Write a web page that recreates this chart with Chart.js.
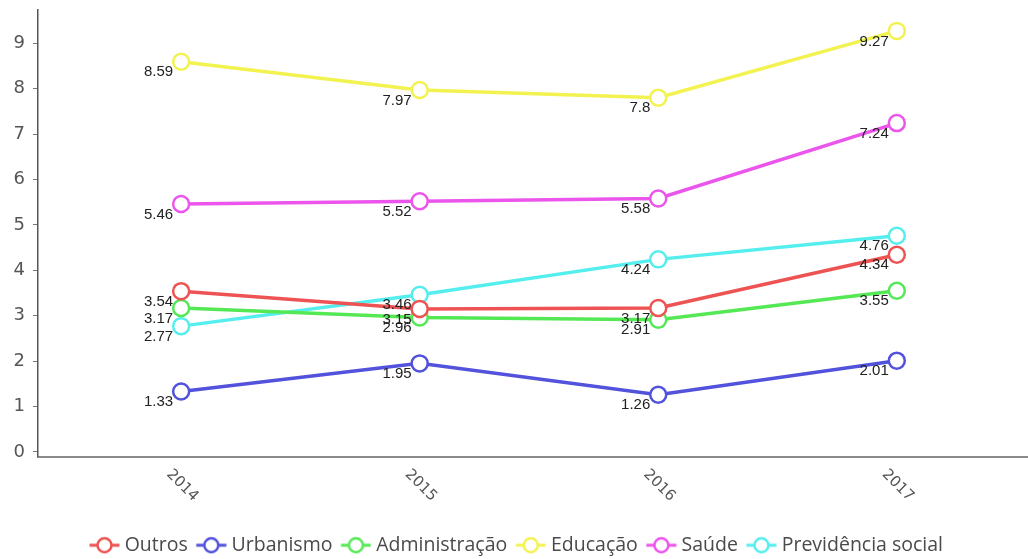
<!DOCTYPE html>
<html>
<head>
<meta charset="utf-8">
<script src="https://cdn.jsdelivr.net/npm/chart.js@4/dist/chart.umd.min.js"></script>
<style>
  html, body { margin: 0; padding: 0; background: #fff; }
  #wrap { width: 1028px; height: 559px; }
</style>
</head>
<body>
<div id="wrap"><canvas id="grafica"></canvas></div>
<script>
// datos
var anos = [2014, 2015, 2016, 2017];
var outros = [3.54, 3.15, 3.17, 4.34];
var urbanismo = [1.33, 1.95, 1.26, 2.01];
var administracao = [3.17, 2.96, 2.91, 3.55];
var educacao = [8.59, 7.97, 7.8, 9.27];
var saude = [5.46, 5.52, 5.58, 7.24];
var previdencia = [2.77, 3.46, 4.24, 4.76];
var ticksY = [0, 1, 2, 3, 4, 5, 6, 7, 8, 9];

var series = [
  { nome: 'Outros', valores: outros, cor: '#ee5353' },
  { nome: 'Urbanismo', valores: urbanismo, cor: '#5252dc' },
  { nome: 'Administração', valores: administracao, cor: '#55e855' },
  { nome: 'Educação', valores: educacao, cor: '#f2f250' },
  { nome: 'Saúde', valores: saude, cor: '#ec55ec' },
  { nome: 'Previdência social', valores: previdencia, cor: '#55eeee' }
];

// icono de la leyenda: linea + circulo
function iconoLeyenda(cor) {
  var c = document.createElement('canvas');
  c.width = 40; c.height = 20;
  var g = c.getContext('2d');
  g.strokeStyle = cor;
  g.lineWidth = 3;
  g.beginPath(); g.moveTo(9.5, 10); g.lineTo(39.5, 10); g.stroke();
  g.fillStyle = '#fff';
  g.lineWidth = 2.5;
  g.beginPath(); g.arc(24.5, 10, 7, 0, Math.PI * 2); g.fill(); g.stroke();
  return c;
}

var datasets = series.map(function(s) {
  return {
    label: s.nome,
    data: s.valores.map(function(v, i) { return { x: anos[i], y: v }; }),
    borderColor: s.cor,
    backgroundColor: '#ffffff',
    borderWidth: 3.5,
    pointRadius: 8,
    pointHoverRadius: 8,
    pointBorderWidth: 2.5,
    pointBackgroundColor: '#ffffff',
    tension: 0,
    icono: iconoLeyenda(s.cor)
  };
});

// etiquetas de valores
var etiquetas = {
  id: 'etiquetas',
  afterDatasetsDraw: function(chart) {
    var ctx = chart.ctx;
    ctx.save();
    ctx.font = '15px "Liberation Sans", Arial, sans-serif';
    ctx.fillStyle = '#222';
    ctx.textAlign = 'right';
    ctx.textBaseline = 'top';
    chart.data.datasets.forEach(function(ds, i) {
      var meta = chart.getDatasetMeta(i);
      meta.data.forEach(function(p, j) {
        ctx.fillText(String(ds.data[j].y), p.x - 8, p.y + 3);
      });
    });
    ctx.restore();
  }
};

// años inclinados hacia abajo
var etiquetasX = {
  id: 'etiquetasX',
  afterDraw: function(chart) {
    var ctx = chart.ctx;
    var esc = chart.scales.x;
    ctx.save();
    ctx.font = '15px "DejaVu Sans", Verdana, sans-serif';
    ctx.fillStyle = '#555';
    ctx.textAlign = 'center';
    ctx.textBaseline = 'middle';
    anos.forEach(function(a) {
      var px = esc.getPixelForValue(a);
      ctx.save();
      ctx.translate(px + 1, esc.top + 29);
      ctx.rotate(Math.PI / 4);
      ctx.fillText(String(a), 0, 0);
      ctx.restore();
    });
    ctx.restore();
  }
};

new Chart(document.getElementById('grafica'), {
  type: 'line',
  data: { datasets: datasets },
  plugins: [etiquetas, etiquetasX],
  options: {
    responsive: true,
    maintainAspectRatio: false,
    animation: false,
    layout: { autoPadding: false, padding: { top: 10, left: 0, right: 0, bottom: -6 } },
    plugins: {
      tooltip: { enabled: false },
      legend: {
        position: 'bottom',
        labels: {
          usePointStyle: true,
          pointStyleWidth: 30,
          padding: 4,
          color: '#4a4a4a',
          font: { size: 19.5, family: '"Open Sans", "Liberation Sans", Arial, sans-serif' },
          generateLabels: function(chart) {
            return chart.data.datasets.map(function(ds, i) {
              return {
                text: ds.label,
                pointStyle: ds.icono,
                fillStyle: '#fff',
                strokeStyle: ds.borderColor,
                lineWidth: 0,
                fontColor: '#4a4a4a',
                hidden: false,
                datasetIndex: i
              };
            });
          }
        }
      }
    },
    scales: {
      x: {
        type: 'linear',
        min: 2013.4,
        max: 2017.55,
        grid: { display: false },
        border: { display: true, color: '#8a8a8a', width: 2 },
        ticks: { display: false },
        afterFit: function(s) { s.height = 75; s.paddingLeft = 0; s.paddingRight = 0; }
      },
      y: {
        min: -0.1,
        max: 9.73,
        afterBuildTicks: function(s) {
          s.ticks = ticksY.map(function(v) { return { value: v }; });
        },
        afterFit: function(s) { s.width = 38; s.paddingTop = 0; s.paddingBottom = 0; },
        grid: { drawOnChartArea: false, drawTicks: true, tickLength: 5, color: '#777' },
        border: { display: true, color: '#555', width: 1.5 },
        ticks: {
          padding: 8,
          color: '#555',
          font: { size: 18, family: '"DejaVu Sans", Verdana, sans-serif' }
        }
      }
    }
  }
});
</script>
</body>
</html>
